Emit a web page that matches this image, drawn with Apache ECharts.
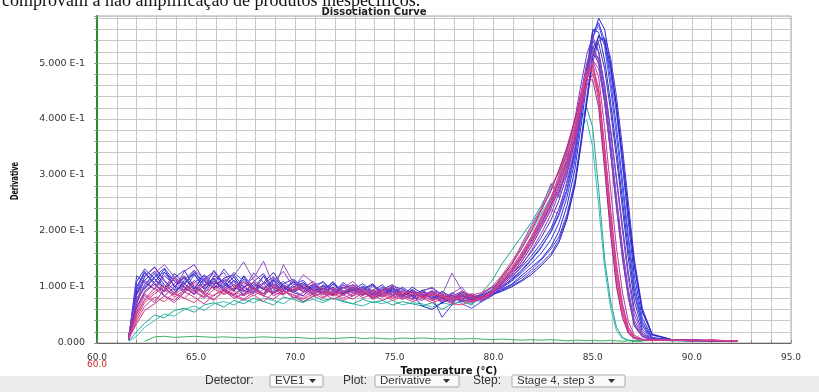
<!DOCTYPE html>
<html>
<head>
<meta charset="utf-8">
<script src="https://cdn.jsdelivr.net/npm/echarts@6/dist/echarts.min.js"></script>
<style>
html,body{margin:0;padding:0;background:#fff;}
#chart{width:819px;height:392px;}
</style>
</head>
<body>
<div id="chart"></div>
<script>
const temps = [61.6,62.0,62.4,62.9,63.4,63.9,64.4,64.9,65.4,65.9,
  66.4,66.9,67.4,67.9,68.4,68.9,69.4,69.9,70.4,70.9,
  71.4,71.9,72.4,72.9,73.4,73.9,74.4,74.9,75.4,75.9,
  76.4,76.9,77.4,77.9,78.4,78.9,79.4,79.9,
  80.4,80.9,81.4,81.9,82.4,82.9,83.3,83.7,84.1,84.4,
  84.7,85.0,85.3,85.6,85.9,86.2,86.5,86.8,87.1,87.5,
  88.0,89.0,90.0,91.0,92.3];

// Derivative values in thousandths (x 1e-3), one array per well
const wellB1 = [8,95,125,108,132,100,118,96,122,105, 112,92,120,100,88,114,96,108,90,102, 86,106,94,84,102,90,82,98,86,78, 94,84,76,90,78,84,80,88,
  95,105,120,135,150,172,200,245,310,385, 465,545,580,560,500,420,320,215,120,45, 10,5,6,4,3];
const wellB2 = [5,70,105,124,98,86,112,130,102,116, 94,104,84,110,124,96,86,104,112,92, 102,88,108,96,86,94,104,84,92,82, 76,92,70,86,74,80,86,90,
  98,110,125,142,160,185,215,260,325,400, 480,555,572,540,470,385,290,190,105,38, 9,5,5,4,3];
const wellB3 = [10,110,132,115,98,124,106,92,114,128, 104,96,118,94,108,126,100,90,104,96, 110,92,86,100,94,106,88,96,84,100, 88,80,92,82,76,86,78,92,
  100,112,128,148,170,200,232,275,340,410, 490,560,555,505,430,345,255,165,88,30, 8,5,4,5,3];
const wellB4 = [6,80,100,118,134,110,94,122,104,114, 96,112,100,90,120,98,110,94,106,88, 104,96,88,104,98,86,100,90,84,96, 82,88,80,72,88,78,74,84,
  96,104,116,130,148,168,190,230,290,360, 440,515,550,535,485,410,320,225,135,55, 14,6,5,4,3];
const wellB5 = [7,100,128,104,92,116,130,100,92,120, 108,94,114,98,88,106,94,110,98,86, 96,108,88,94,106,92,86,102,96,84, 92,78,86,76,84,74,80,90,
  102,118,135,155,178,205,240,285,345,410, 475,530,535,490,415,330,240,150,75,25, 8,5,5,4,3];
const wellB6 = [9,120,108,96,126,112,100,88,116,104, 132,110,94,88,106,118,98,90,84,104, 92,110,90,100,84,102,88,98,82,94, 86,82,46,68,92,84,76,86,
  94,102,112,126,142,160,185,225,285,355, 430,500,540,545,510,440,350,250,150,62, 16,6,5,4,3];
const wellB7 = [12,90,118,136,112,94,104,126,110,98, 116,122,100,108,96,90,106,114,100,94, 98,88,104,92,100,86,96,104,88,84, 94,98,84,80,90,82,86,94,
  105,122,140,162,188,220,255,300,360,420, 485,540,520,460,380,295,210,125,60,20, 7,5,5,4,3];
const wellB8 = [6,88,112,128,104,90,108,124,96,110, 100,118,92,104,96,112,88,100,108,94, 90,100,86,96,92,80,88,94,78,86, 66,60,72,80,86,76,82,86,
  92,100,110,122,138,156,180,220,280,350, 430,510,548,540,495,425,335,235,140,58, 15,6,5,4,3];
const wellB9 = [9,105,96,118,126,102,94,108,120,98, 104,126,110,96,88,100,94,112,96,104, 108,94,100,90,98,104,92,86,100,88, 92,84,80,86,70,62,74,84,
  100,114,130,150,172,198,228,270,335,405, 478,545,568,530,455,370,275,180,95,34, 9,5,4,4,3];
const wellP1 = [12,70,120,135,110,95,128,140,112,98, 115,104,96,125,108,100,92,110,98,88, 102,94,88,100,92,86,96,90,82,94, 86,80,92,76,84,78,88,98,
  108,130,155,185,220,255,290,340,400,460, 515,548,520,450,360,260,170,95,40,15, 7,5,6,4,3];
const wellP2 = [15,80,100,125,140,118,104,130,115,96, 110,120,145,112,100,92,140,108,96,104, 98,90,104,94,100,88,96,104,90,86, 92,100,86,125,94,80,88,100,
  112,140,175,210,240,285,260,320,370,430, 480,520,500,440,350,255,165,90,35,12, 6,5,5,4,3];
const wellP3 = [9,55,85,72,96,118,102,86,110,124, 98,84,104,116,146,102,88,96,122,108, 90,84,98,110,94,80,92,100,86,78, 84,94,80,88,100,76,84,92,
  100,120,145,172,205,238,230,290,350,415, 470,505,490,430,345,250,160,85,33,12, 6,5,5,4,3];
const wellP4 = [8,62,92,108,84,100,116,94,82,104, 92,110,86,98,120,88,104,94,84,100, 96,86,100,88,94,104,84,92,98,82, 90,86,78,84,92,80,82,90,
  104,125,150,178,210,245,280,325,385,445, 500,530,505,435,340,240,150,80,30,11, 6,5,4,4,3];
const wellP5 = [11,85,112,96,120,104,90,112,98,130, 106,94,108,96,84,110,128,100,92,106, 88,98,92,84,96,88,100,86,94,90, 84,92,88,80,86,76,84,92,
  98,115,138,165,195,230,268,305,360,420, 475,515,510,460,380,290,200,115,50,16, 7,5,5,4,3];
const wellP6 = [10,75,98,115,92,106,120,98,88,112, 126,100,92,104,98,116,104,94,100,90, 96,104,90,98,86,94,88,100,84,92, 80,88,84,76,82,88,82,90,
  106,128,150,178,212,248,270,310,372,435, 492,525,498,430,340,245,155,82,32,12, 6,5,5,4,3];
const wellK1 = [6,40,65,82,74,90,80,72,88,78, 92,84,76,86,74,90,96,82,78,88, 80,90,76,84,92,78,86,76,82,74, 80,72,78,70,68,76,78,88,
  110,130,155,185,215,250,285,320,370,420, 470,495,455,350,230,130,65,25,10,6, 5,5,4,6,3];
const wellK2 = [10,45,72,88,100,82,94,108,90,102, 86,98,110,92,84,100,88,96,104,90, 96,84,92,100,88,94,82,90,86,92, 80,88,84,78,86,82,80,90,
  115,135,160,190,225,260,300,345,395,445, 485,498,440,330,210,115,55,20,9,6, 5,5,4,4,3];
const wellK3 = [8,35,58,70,84,76,92,82,70,86, 94,80,88,100,84,78,92,86,74,84, 90,78,86,94,80,88,76,84,92,78, 84,76,82,74,80,86,76,86,
  105,122,145,172,205,240,275,315,365,415, 460,480,445,350,240,140,70,28,11,6, 5,5,5,4,3];
const wellK4 = [11,60,88,76,94,86,100,92,80,96, 88,104,92,84,96,90,86,100,94,82, 90,98,86,92,84,96,88,80,92,86, 90,84,88,80,92,86,90,100,
  120,145,172,205,238,275,310,350,400,445, 480,488,430,320,200,105,48,18,8,6, 5,5,4,5,3];
const wellK5 = [7,50,78,98,84,72,90,104,86,76, 96,88,78,92,106,84,94,80,90,98, 82,92,86,78,90,84,94,80,86,78, 88,80,74,84,78,72,80,88,
  108,128,152,182,215,250,288,330,380,430, 472,505,475,385,275,170,90,38,14,7, 5,5,5,4,4];
const wellK6 = [9,65,90,105,92,116,98,88,102,110, 94,86,100,108,96,88,102,92,98,110, 92,86,98,104,90,82,94,100,86,90, 82,92,80,86,74,78,82,92,
  118,140,168,200,236,272,308,348,398,440, 470,470,420,310,195,100,45,17,8,6, 5,5,4,4,3];
const wellK7 = [8,52,76,92,104,88,80,96,90,84, 100,92,84,96,88,104,92,86,80,94, 86,92,80,88,96,82,90,84,78,88, 82,76,84,78,82,74,82,90,
  112,132,158,188,222,258,295,338,388,438, 478,500,450,342,222,122,58,22,9,6, 5,5,4,5,3];
const wellT1 = [4,20,35,50,45,58,62,55,68,72, 64,76,70,80,74,68,82,78,72,84, 76,80,74,70,78,72,76,68,74,70, 66,72,60,70,74,68,90,110,
  140,165,190,215,245,280,305,335,370,400, 420,385,275,150,75,28,10,5,4,4, 5,4,4,3,3];
const wellT2 = [3,12,28,40,52,48,60,66,58,70, 74,68,78,72,80,76,70,82,74,78, 72,80,76,70,66,74,70,76,68,72, 70,64,72,68,76,70,80,95,
  118,140,168,198,230,262,292,325,360,388, 398,350,245,135,62,22,8,5,4,4, 5,4,3,3,3];
const wellNTC = [null,null,3,11,12,10,11,12,11,10, 11,10,9,10,11,10,9,10,9,8, 9,8,9,10,8,9,8,7,9,8, 9,8,7,8,7,8,7,6,
  7,6,5,6,5,6,5,4,5,5, 4,5,4,4,5,4,3,4,3,3, null,null,null,null,null];

const wells = [wellT2, wellT1, wellB1, wellB2, wellB3, wellB4, wellB5, wellB6, wellB7, wellB8, wellB9,
  wellP1, wellP2, wellP3, wellP4, wellP5, wellP6, wellK1, wellK2, wellK3, wellK4, wellK5, wellK6, wellK7, wellNTC];
const wellColors = ['#38bfb6','#1fa596','#2a2ad8','#3b3be6','#2f2fb8','#4646de','#3434c8','#5236d8','#4a30c4','#2323c0','#4b4bf0',
  '#7a2fc8','#8858b8','#9a48d0','#6e3cc0','#8a3cc8','#7c44b4','#e0407c','#d83a6a','#c2308f','#e04a8a','#b83aa8','#a4288f','#d9468e','#3cb060'];

const xLabelTicks = [60, 65, 70, 75, 80, 85, 90, 95];
const yLabelTicks = [0, 0.1, 0.2, 0.3, 0.4, 0.5];

const series = wells.map((vals, k) => ({
  type: 'line',
  data: temps.map((t, i) => [t, vals[i] == null ? null : vals[i] / 1000]),
  showSymbol: false,
  lineStyle: { width: 1, color: wellColors[k] },
  itemStyle: { color: wellColors[k] },
  z: 2
}));

const labelFont = '"DejaVu Sans", Verdana, sans-serif';
const uiFont = '"Liberation Sans", Arial, sans-serif';
const chart = echarts.init(document.getElementById('chart'), null, { renderer: 'canvas' });
chart.setOption({
  animation: false,
  backgroundColor: '#ffffff',
  grid: { left: 97, right: 28, top: 16, bottom: 49, show: true, borderColor: '#a8a8a8', borderWidth: 1, backgroundColor: '#ffffff' },
  title: {
    text: 'Dissociation Curve', left: 374, top: 7, padding: 0,
    textAlign: 'center',
    textStyle: { fontSize: 10, fontWeight: 'bold', color: '#222', fontFamily: labelFont }
  },
  xAxis: {
    type: 'value', min: 60, max: 95, interval: 1, offset: 5,
    axisLine: { show: true, lineStyle: { color: '#666', width: 1 } },
    axisTick: { show: true, inside: true, length: 3, lineStyle: { color: '#888' } },
    splitLine: { show: true, lineStyle: { color: '#c8c8c8', width: 1 } },
    axisLabel: {
      fontSize: 9, color: '#333', fontFamily: labelFont, margin: 5,
      formatter: v => (Math.abs(v - Math.round(v)) < 1e-6 && xLabelTicks.indexOf(Math.round(v)) >= 0) ? v.toFixed(1) : ''
    },
    name: 'Temperature (°C)', nameLocation: 'middle', nameGap: 12,
    nameTextStyle: { fontSize: 10, fontWeight: 'bold', color: '#111', fontFamily: labelFont, padding: [0, 0, 0, 10] }
  },
  yAxis: {
    type: 'value', min: 0, max: 0.584, interval: 0.02,
    axisLine: { show: true, lineStyle: { color: '#2e8b2e', width: 2 } },
    axisTick: { show: true, length: 3, lineStyle: { color: '#999' } },
    splitLine: { show: true, lineStyle: { color: '#c8c8c8', width: 1 } },
    axisLabel: {
      fontSize: 9.5, color: '#333', fontFamily: labelFont, margin: 12,
      formatter: v => {
        const k = Math.round(v * 100);
        if (yLabelTicks.indexOf(k / 100) < 0) return '';
        if (k === 0) return '0.000';
        return (k / 10).toFixed(3) + ' E-1';
      }
    }
  },
  series: series,
  graphic: [
    { type: 'text', left: 2, top: -8, style: { text: 'comprovam a não amplificação de produtos inespecíficos.', font: '18px "Liberation Serif", "Times New Roman", serif', fill: '#111' }, z: 10 },
    { type: 'text', x: 15, y: 181, rotation: Math.PI / 2, scaleX: 0.66, style: { text: 'Derivative', font: 'bold 11px "DejaVu Sans Condensed", "Liberation Sans Narrow", sans-serif', fill: '#111', align: 'center', verticalAlign: 'middle' } },
    { type: 'text', x: 97, y: 365, style: { text: '60.0', font: '9px "DejaVu Sans", Verdana, sans-serif', fill: '#cc2b2b', align: 'center', verticalAlign: 'middle' } },
    { type: 'rect', shape: { x: 0, y: 376, width: 819, height: 16 }, style: { fill: '#ececec' }, z: -1 },
    { type: 'text', x: 205, y: 381, style: { text: 'Detector:', font: '12px ' + uiFont, fill: '#333', verticalAlign: 'middle' } },
    { type: 'rect', shape: { x: 270, y: 375, width: 53, height: 12, r: 1 }, style: { fill: '#fafafa', stroke: '#a8a8a8', lineWidth: 1 } },
    { type: 'text', x: 275, y: 381, style: { text: 'EVE1', font: '11.5px ' + uiFont, fill: '#333', verticalAlign: 'middle' } },
    { type: 'polygon', shape: { points: [[309, 379], [316, 379], [312.5, 383]] }, style: { fill: '#333' } },
    { type: 'text', x: 343, y: 381, style: { text: 'Plot:', font: '12px ' + uiFont, fill: '#333', verticalAlign: 'middle' } },
    { type: 'rect', shape: { x: 375, y: 375, width: 84, height: 12, r: 1 }, style: { fill: '#fafafa', stroke: '#a8a8a8', lineWidth: 1 } },
    { type: 'text', x: 380, y: 381, style: { text: 'Derivative', font: '11.5px ' + uiFont, fill: '#333', verticalAlign: 'middle' } },
    { type: 'polygon', shape: { points: [[443, 379], [450, 379], [446.5, 383]] }, style: { fill: '#333' } },
    { type: 'text', x: 473, y: 381, style: { text: 'Step:', font: '12px ' + uiFont, fill: '#333', verticalAlign: 'middle' } },
    { type: 'rect', shape: { x: 512, y: 375, width: 113, height: 12, r: 1 }, style: { fill: '#fafafa', stroke: '#a8a8a8', lineWidth: 1 } },
    { type: 'text', x: 517, y: 381, style: { text: 'Stage 4, step 3', font: '11.5px ' + uiFont, fill: '#333', verticalAlign: 'middle' } },
    { type: 'polygon', shape: { points: [[608, 379], [615, 379], [611.5, 383]] }, style: { fill: '#333' } }
  ]
});
</script>
</body>
</html>
